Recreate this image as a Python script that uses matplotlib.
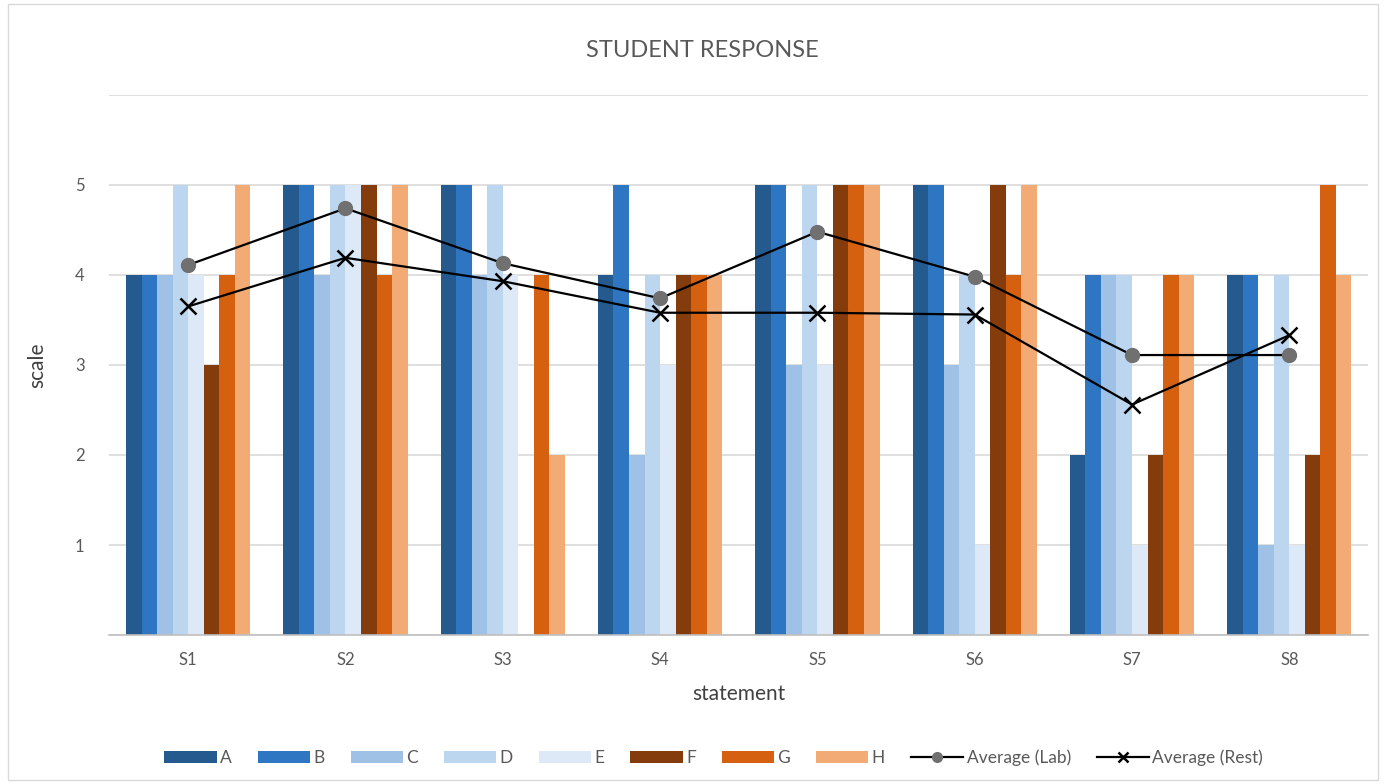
import matplotlib
matplotlib.use("Agg")
import matplotlib.pyplot as plt
import numpy as np
from matplotlib.patches import Rectangle

plt.rcParams['font.family'] = ['Lato', 'DejaVu Sans']

statements = ["S1", "S2", "S3", "S4", "S5", "S6", "S7", "S8"]
series_names = ["A", "B", "C", "D", "E", "F", "G", "H"]
A = [4, 5, 5, 4, 5, 5, 2, 4]
B = [4, 5, 5, 5, 5, 5, 4, 4]
C = [4, 4, 4, 2, 3, 3, 4, 1]
D = [5, 5, 5, 4, 5, 4, 4, 4]
E = [4, 5, 4, 3, 3, 1, 1, 1]
F = [3, 5, 0, 4, 5, 5, 2, 2]
G = [4, 4, 4, 4, 5, 4, 4, 5]
H = [5, 5, 2, 4, 5, 5, 4, 4]
avg_lab = [4.11, 4.74, 4.13, 3.74, 4.48, 3.98, 3.11, 3.11]
avg_rest = [3.65, 4.19, 3.93, 3.58, 3.58, 3.56, 2.56, 3.33]

colors = ["#245a8e", "#2e76c2", "#9fc1e6", "#bdd6f0", "#dde9f6",
          "#843c0c", "#d5600f", "#f3ab76"]

fig = plt.figure(figsize=(13.86, 7.84), dpi=100)
ax = fig.add_axes([0.079, 0.190, 0.908, 0.689])

x = np.arange(len(statements))
n = len(series_names)
w = 0.79 / n
bar_handles = []
for i, (vals, c, nm) in enumerate(zip([A, B, C, D, E, F, G, H], colors, series_names)):
    b = ax.bar(x + (i - (n - 1) / 2) * w, vals, width=w, color=c, label=nm, zorder=2)
    bar_handles.append(b)

l1, = ax.plot(x, avg_lab, color="black", lw=1.6, marker="o", markersize=10,
              markerfacecolor="#707070", markeredgecolor="#707070", label="Average (Lab)", zorder=4)
l2, = ax.plot(x, avg_rest, color="black", lw=1.6, marker="x", markersize=11,
              markeredgewidth=1.8, label="Average (Rest)", zorder=4)

ax.set_xlim(-0.5, 7.5)
ax.set_ylim(0, 6)
ax.set_yticks([0, 1, 2, 3, 4, 5, 6])
ax.set_yticklabels(["", "1", "2", "3", "4", "5", ""])
ax.set_xticks(x)
ax.set_xticklabels(statements)
ax.yaxis.grid(True, color="#d9d9d9", lw=1.2, zorder=0)
ax.set_axisbelow(True)
for s in ["top", "right", "left"]:
    ax.spines[s].set_visible(False)
ax.spines["bottom"].set_color("#bfbfbf")
ax.spines["bottom"].set_linewidth(1.2)
ax.tick_params(axis="both", length=0, labelsize=12, colors="#595959", pad=12)
ax.tick_params(axis="y", pad=18)

ax.set_xlabel("statement", fontsize=15, color="#404040", labelpad=12)
ax.set_ylabel("scale", fontsize=15, color="#404040", labelpad=20)
fig.text(0.507, 0.936, "STUDENT RESPONSE", ha="center", va="center",
         fontsize=17, color="#595959")

handles = bar_handles + [l1, l2]
labels = series_names + ["Average (Lab)", "Average (Rest)"]
leg = fig.legend(handles, labels, loc="center", bbox_to_anchor=(0.515, 0.033), ncol=10,
                 frameon=False, fontsize=12.5, labelcolor="#595959", handlelength=3.0,
                 handleheight=0.7, columnspacing=1.5, handletextpad=0.2, markerscale=0.7)

fig.patches.append(Rectangle((0.006, 0.005), 0.988, 0.99, transform=fig.transFigure,
                             fill=False, edgecolor="#d9d9d9", lw=1))

fig.savefig("out.png", dpi=100)
